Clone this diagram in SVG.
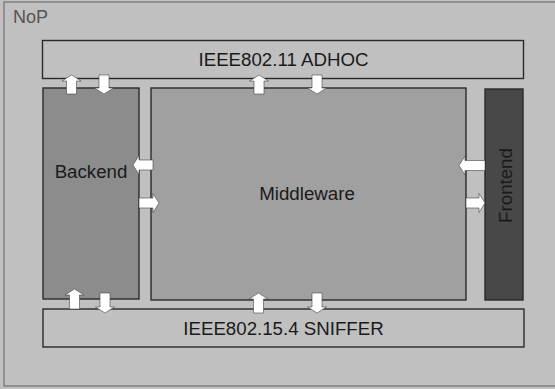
<svg xmlns="http://www.w3.org/2000/svg" width="555" height="389" viewBox="0 0 555 389">
<style>
.lbl{font-family:"Liberation Sans",Arial,sans-serif;font-size:18.7px;fill:#1a1a1a}
.box{stroke:#2a2a2a;stroke-width:1.4}
.arr{fill:#ffffff;stroke:#444;stroke-width:0.6;stroke-linejoin:miter}
</style>
<rect width="555" height="389" fill="#c0c0c0"/>
<g id="nop">
<rect x="4" y="2" width="560" height="384" fill="#c0c0c0" stroke="#808080" stroke-width="1.5"/>
<text x="13" y="23" class="lbl" style="font-size:18px;fill:#555">NoP</text>
</g>
<g id="adhoc">
<rect x="42.5" y="40.5" width="481" height="38" fill="#c0c0c0" class="box"/>
<text x="283.5" y="66" text-anchor="middle" class="lbl">IEEE802.11 ADHOC</text>
</g>
<g id="backend">
<rect x="43" y="88" width="96" height="211" fill="#8c8c8c" class="box"/>
<text x="91" y="178" text-anchor="middle" class="lbl">Backend</text>
</g>
<g id="middleware">
<rect x="151" y="88" width="315" height="212" fill="#a0a0a0" class="box"/>
<text x="307" y="200" text-anchor="middle" class="lbl">Middleware</text>
</g>
<g id="frontend">
<rect x="485" y="89" width="38" height="211" fill="#484848" class="box"/>
<text x="0" y="0" transform="translate(511.5,185.5) rotate(-90)" text-anchor="middle" class="lbl">Frontend</text>
</g>
<g id="sniffer">
<rect x="43" y="309" width="481" height="38" fill="#c0c0c0" class="box"/>
<text x="283.5" y="334.7" text-anchor="middle" class="lbl">IEEE802.15.4 SNIFFER</text>
</g>
<g id="connectors">
<path class="arr" d="M66.5,94 V81 H62 L71.5,75 L81,81 H76.5 V94 Z"/>
<path class="arr" d="M99,75 V88 H94.5 L104,94 L113.5,88 H109 V75 Z"/>
<path class="arr" d="M254,94 V81 H249.5 L259,75 L268.5,81 H264 V94 Z"/>
<path class="arr" d="M312,75 V88 H307.5 L317,94 L326.5,88 H322 V75 Z"/>
<path class="arr" d="M69.5,309 V295 H65 L74.5,289 L84,295 H79.5 V309 Z"/>
<path class="arr" d="M100,293 V307 H95.5 L105,313 L114.5,307 H110 V293 Z"/>
<path class="arr" d="M253.5,313 V299 H249 L258.5,293 L268,299 H263.5 V313 Z"/>
<path class="arr" d="M312,293 V307 H307.5 L317,313 L326.5,307 H322 V293 Z"/>
<path class="arr" d="M153,160 H139 V155.5 L133,165 L139,174.5 V170 H153 Z"/>
<path class="arr" d="M139,198 H153 V193.5 L159,203 L153,212.5 V208 H139 Z"/>
<path class="arr" d="M485,160.5 H465 V156 L459,165.5 L465,175 V170.5 H485 Z"/>
<path class="arr" d="M466,198 H479 V193.5 L485,203 L479,212.5 V208 H466 Z"/>
</g>
</svg>
